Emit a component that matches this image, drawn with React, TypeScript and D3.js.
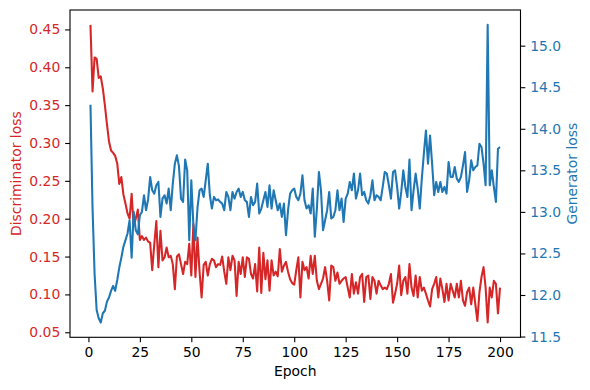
import React, { useEffect, useRef } from 'react';
import * as d3 from 'd3';

// losses per epoch
const epochs = d3.range(1, 201);

const discLoss = [
  0.456, 0.368, 0.413, 0.411, 0.386, 0.388, 0.372, 0.350, 0.325, 0.302,
  0.290, 0.287, 0.283, 0.273, 0.246, 0.255, 0.232, 0.220, 0.207, 0.200,
  0.233, 0.190, 0.200, 0.212, 0.172, 0.177, 0.172, 0.175, 0.170, 0.168,
  0.132, 0.166, 0.197, 0.136, 0.184, 0.145, 0.149, 0.162, 0.149, 0.151,
  0.140, 0.107, 0.150, 0.153, 0.140, 0.127, 0.143, 0.140, 0.167, 0.125,
  0.193, 0.123, 0.175, 0.130, 0.096, 0.139, 0.143, 0.125, 0.140, 0.147,
  0.145, 0.136, 0.140, 0.139, 0.150, 0.130, 0.114, 0.149, 0.132, 0.151,
  0.145, 0.098, 0.143, 0.127, 0.149, 0.123, 0.149, 0.147, 0.127, 0.121,
  0.140, 0.104, 0.162, 0.102, 0.155, 0.120, 0.145, 0.105, 0.145, 0.125,
  0.130, 0.124, 0.160, 0.130, 0.138, 0.143, 0.130, 0.120, 0.115, 0.113,
  0.132, 0.149, 0.096, 0.143, 0.132, 0.136, 0.121, 0.151, 0.127, 0.151,
  0.118, 0.107, 0.114, 0.121, 0.136, 0.118, 0.092, 0.138, 0.136, 0.118,
  0.129, 0.114, 0.118, 0.121, 0.123, 0.109, 0.096, 0.127, 0.101, 0.116,
  0.101, 0.123, 0.127, 0.090, 0.123, 0.125, 0.094, 0.123, 0.118, 0.101,
  0.118, 0.112, 0.107, 0.109, 0.107, 0.114, 0.127, 0.089, 0.101, 0.114,
  0.138, 0.099, 0.118, 0.123, 0.101, 0.140, 0.109, 0.098, 0.125, 0.096,
  0.123, 0.105, 0.109, 0.101, 0.092, 0.084, 0.107, 0.114, 0.123, 0.096,
  0.121, 0.107, 0.090, 0.114, 0.092, 0.114, 0.105, 0.096, 0.114, 0.096,
  0.118, 0.092, 0.085, 0.103, 0.109, 0.087, 0.109, 0.087, 0.065, 0.103,
  0.123, 0.136, 0.109, 0.063, 0.109, 0.096, 0.118, 0.114, 0.075, 0.109
];

const genLoss = [
  14.29, 13.05, 12.25, 11.82, 11.72, 11.67, 11.78, 11.81, 11.92, 11.97,
  12.05, 12.11, 12.05, 12.18, 12.33, 12.45, 12.58, 12.66, 12.74, 12.90,
  12.45, 13.00, 12.78, 12.73, 12.96, 13.00, 13.20, 13.02, 13.15, 13.42,
  13.26, 13.22, 13.32, 13.36, 12.94, 13.16, 13.20, 13.10, 13.28, 13.02,
  13.34, 13.58, 13.68, 13.55, 13.16, 13.12, 13.63, 13.50, 12.66, 13.38,
  12.84, 12.66, 13.05, 13.26, 13.28, 13.18, 13.38, 13.58, 13.20, 13.04,
  13.18, 13.14, 13.15, 13.12, 13.10, 13.02, 13.24, 13.18, 13.02, 13.24,
  13.16, 13.24, 13.28, 13.18, 13.24, 13.14, 13.12, 12.94, 13.18, 13.08,
  13.12, 13.34, 12.98, 13.04, 13.14, 13.24, 13.06, 13.32, 13.04, 13.26,
  13.14, 13.02, 13.10, 12.94, 13.10, 12.72, 13.02, 13.22, 13.26, 13.28,
  13.18, 13.14, 13.22, 13.44, 13.14, 13.04, 13.08, 12.98, 13.28, 12.70,
  13.04, 13.48, 13.26, 12.78, 12.90, 13.02, 13.24, 12.92, 12.94, 13.02,
  13.26, 13.02, 13.16, 12.88, 13.16, 13.22, 13.36, 13.26, 13.46, 13.16,
  13.26, 13.46, 13.20, 13.24, 13.14, 13.10, 13.20, 13.38, 13.14, 13.20,
  13.18, 13.14, 13.30, 13.48, 13.46, 13.32, 13.16, 13.48, 13.50, 13.30,
  13.04, 13.24, 13.50, 13.30, 13.18, 13.63, 13.02, 13.26, 13.46, 13.28,
  13.04, 13.40, 13.70, 13.98, 13.58, 13.92, 13.58, 13.20, 13.36, 13.24,
  13.36, 13.24, 13.30, 13.22, 13.60, 13.42, 13.42, 13.54, 13.40, 13.36,
  13.42, 13.56, 13.72, 13.24, 13.38, 13.62, 13.50, 13.54, 13.56, 13.82,
  13.78, 13.58, 13.32, 15.25, 13.32, 13.50, 13.30, 13.12, 13.76, 13.78
];

const xTicks = [0, 25, 50, 75, 100, 125, 150, 175, 200];
const discTicks = [0.05, 0.1, 0.15, 0.2, 0.25, 0.3, 0.35, 0.4, 0.45];
const genTicks = [11.5, 12, 12.5, 13, 13.5, 14, 14.5, 15];

const RED = '#d62728';
const BLUE = '#1f77b4';
const FONT = 'DejaVu Sans, sans-serif';

const LossChart = () => {
  const chartRef = useRef<SVGSVGElement>(null);

  useEffect(() => {
    const width = 590;
    const height = 390;
    const left = 70, right = 520.5, top = 10, bottom = 337.3;
    const tick = 4.86;

    const svg = d3.select(chartRef.current);
    svg.selectAll('*').remove();
    svg.attr('width', width).attr('height', height);

    // matplotlib style 5% margins
    const pad = (lo: number, hi: number) => {
      const m = (hi - lo) * 0.05;
      return [lo - m, hi + m];
    };

    const x = d3.scaleLinear()
      .domain(pad(d3.min(epochs)!, d3.max(epochs)!))
      .range([left, right]);
    const yDisc = d3.scaleLinear()
      .domain(pad(d3.min(discLoss)!, d3.max(discLoss)!))
      .range([bottom, top]);
    const yGen = d3.scaleLinear()
      .domain(pad(d3.min(genLoss)!, d3.max(genLoss)!))
      .range([bottom, top]);

    const clip = svg.append('clipPath').attr('id', 'plot-clip')
      .append('rect')
      .attr('x', left).attr('y', top)
      .attr('width', right - left).attr('height', bottom - top);

    const lineDisc = d3.line<number>()
      .x((_, i) => x(epochs[i]))
      .y(d => yDisc(d));
    const lineGen = d3.line<number>()
      .x((_, i) => x(epochs[i]))
      .y(d => yGen(d));

    svg.append('path')
      .datum(discLoss)
      .attr('d', lineDisc)
      .attr('fill', 'none')
      .attr('stroke', RED)
      .attr('stroke-width', 2.08)
      .attr('stroke-linejoin', 'round')
      .attr('clip-path', 'url(#plot-clip)');

    svg.append('path')
      .datum(genLoss)
      .attr('d', lineGen)
      .attr('fill', 'none')
      .attr('stroke', BLUE)
      .attr('stroke-width', 2.08)
      .attr('stroke-linejoin', 'round')
      .attr('clip-path', 'url(#plot-clip)');

    const styleAxis = (g: any, color: string) => {
      g.select('.domain').remove();
      g.selectAll('line').attr('stroke', '#000').attr('stroke-width', 1.1);
      g.selectAll('text')
        .attr('fill', color)
        .style('font-family', FONT)
        .style('font-size', '13.9px');
    };

    svg.append('g')
      .attr('transform', `translate(0,${bottom})`)
      .call(d3.axisBottom(x).tickValues(xTicks).tickFormat(d3.format('d'))
        .tickSize(tick).tickPadding(tick))
      .call((g: any) => styleAxis(g, '#000'));

    svg.append('g')
      .attr('transform', `translate(${left},0)`)
      .call(d3.axisLeft(yDisc).tickValues(discTicks).tickFormat(d3.format('.2f'))
        .tickSize(tick).tickPadding(tick))
      .call((g: any) => styleAxis(g, RED));

    svg.append('g')
      .attr('transform', `translate(${right},0)`)
      .call(d3.axisRight(yGen).tickValues(genTicks).tickFormat(d3.format('.1f'))
        .tickSize(tick).tickPadding(tick))
      .call((g: any) => styleAxis(g, BLUE));

    // frame
    svg.append('rect')
      .attr('x', left).attr('y', top)
      .attr('width', right - left).attr('height', bottom - top)
      .attr('fill', 'none')
      .attr('stroke', '#000')
      .attr('stroke-width', 1.1);

    svg.append('text')
      .attr('x', (left + right) / 2)
      .attr('y', 376)
      .attr('text-anchor', 'middle')
      .style('font-family', FONT)
      .style('font-size', '13.9px')
      .text('Epoch');

    svg.append('text')
      .attr('transform', `translate(20.5,${(top + bottom) / 2}) rotate(-90)`)
      .attr('text-anchor', 'middle')
      .attr('fill', RED)
      .style('font-family', FONT)
      .style('font-size', '13.9px')
      .text('Discriminator loss');

    svg.append('text')
      .attr('transform', `translate(576.5,${(top + bottom) / 2}) rotate(-90)`)
      .attr('text-anchor', 'middle')
      .attr('fill', BLUE)
      .style('font-family', FONT)
      .style('font-size', '13.9px')
      .text('Generator loss');

    void clip;
  }, []);

  return (
    <svg ref={chartRef} style={{ position: 'absolute', left: 0, top: 0, background: '#fff' }} />
  );
};

export default function App() {
  return <LossChart />;
}
